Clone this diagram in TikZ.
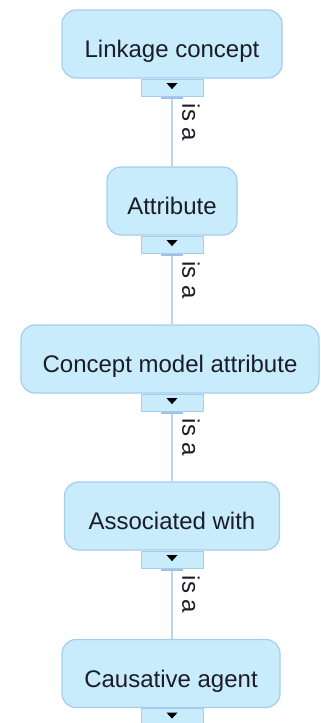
\documentclass[tikz,border=0pt]{standalone}
\usepackage{fontspec}
\setmainfont{Liberation Sans}
\definecolor{boxfill}{RGB}{200,236,252}
\definecolor{boxline}{RGB}{166,204,236}
\definecolor{connline}{RGB}{190,212,238}
\definecolor{barcol}{RGB}{160,192,232}
\definecolor{textcol}{RGB}{28,28,40}
\begin{document}
\begin{tikzpicture}[x=1pt,y=1pt,
  cbox/.style={draw=boxline, fill=boxfill, line width=1.2pt, rounded corners=14pt,
    minimum height=68pt, text height=27pt, text depth=0pt, inner sep=0pt,
    font=\fontsize{24}{28}\selectfont, text=textcol},
  tabbox/.style={draw=boxline, fill=boxfill, line width=1pt, minimum width=62pt,
    minimum height=17pt, inner sep=0pt, anchor=north},
  conn/.style={draw=connline, line width=1.5pt},
  bar/.style={draw=barcol, line width=2pt},
  isa/.style={font=\fontsize{24}{28}\selectfont, text=textcol, inner sep=0pt}
]
\useasboundingbox (0,0) rectangle (321,-723);
\node[cbox, minimum width=220pt] (n1) at (172,-44) {Linkage concept};
\node[cbox, minimum width=130pt] (n2) at (172,-201) {Attribute};
\node[cbox, minimum width=298pt] (n3) at (170,-359) {Concept model attribute};
\node[cbox, minimum width=215pt] (n4) at (172,-516) {Associated with};
\node[cbox, minimum width=218pt] (n5) at (171,-673.5) {Causative agent};
\foreach \i in {1,...,5}{
  \node[tabbox] (t\i) at (172,0 |- n\i.south) {};
  \fill[black] (t\i.center) ++(-5.5,4.5) -- ++(11,0) -- ++(-5.5,-6) -- cycle;
}
\foreach \i/\j in {1/2,2/3,3/4,4/5}{
  \draw[conn] (t\i.south) -- node[isa, pos=0.37, xshift=19pt, rotate=-90] (l\i) {is a} (t\i.south |- n\j.north);
  \draw[bar] (t\i.south) ++(-11,-1) -- ++(22,0);
}
\end{tikzpicture}
\end{document}
